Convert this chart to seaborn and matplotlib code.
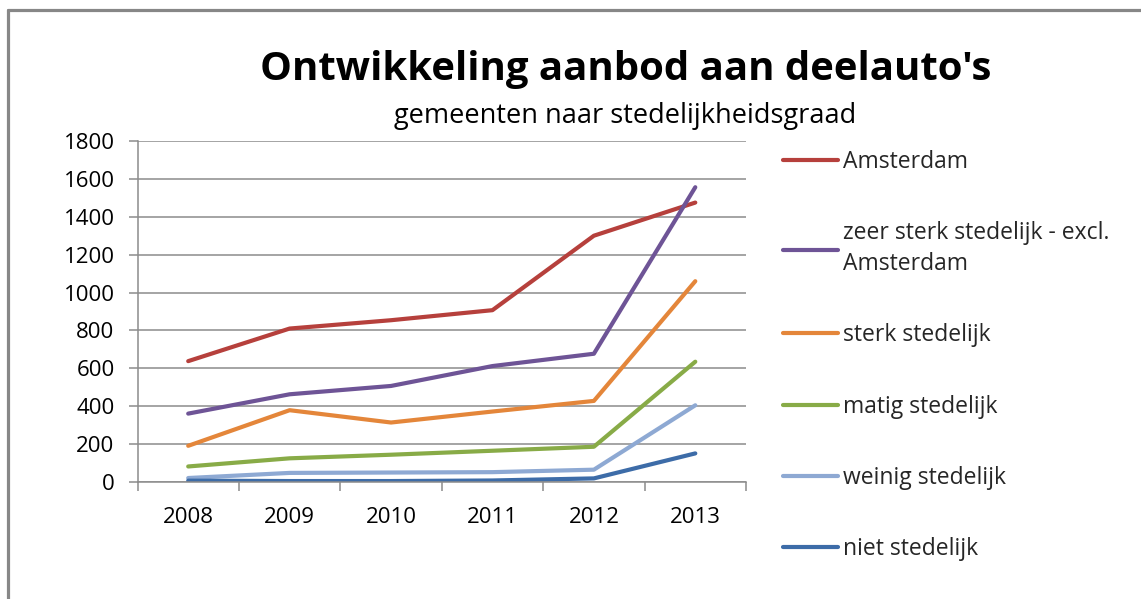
import numpy as np
import pandas as pd
import matplotlib.pyplot as plt
import seaborn as sns
from matplotlib.lines import Line2D

years = [2008, 2009, 2010, 2011, 2012, 2013]
series_names = [
    "Amsterdam",
    "zeer sterk stedelijk - excl.\nAmsterdam",
    "sterk stedelijk",
    "matig stedelijk",
    "weinig stedelijk",
    "niet stedelijk",
]
amsterdam = [638, 810, 854, 907, 1300, 1475]
zeer_sterk = [361, 463, 507, 612, 677, 1556]
sterk = [191, 379, 314, 372, 428, 1060]
matig = [82, 125, 144, 165, 186, 635]
weinig = [21, 48, 50, 52, 65, 405]
niet = [7, 5, 5, 8, 19, 151]
colors = ["#B6403C", "#6E5496", "#E4863A", "#88AB47", "#8EA9D3", "#3D6CA8"]

sns.set_theme(style="white")
plt.rcParams["font.family"] = ["Open Sans", "DejaVu Sans"]

df = pd.DataFrame({"jaar": years})
for name, vals in zip(series_names, [amsterdam, zeer_sterk, sterk, matig, weinig, niet]):
    df[name] = vals

fig = plt.figure(figsize=(11.41, 5.99), dpi=100)

# grey chart frame (only top and left edges are visible in the crop)
frame_col = "#878787"
fig.add_artist(Line2D([8 / 1141, 1.0], [1 - 10 / 599, 1 - 10 / 599],
                      transform=fig.transFigure, color=frame_col, linewidth=2.3))
fig.add_artist(Line2D([8 / 1141, 8 / 1141], [0.0, 1 - 10 / 599],
                      transform=fig.transFigure, color=frame_col, linewidth=2.3))

ax = fig.add_axes([137.5 / 1141, 1 - 482 / 599, (746 - 137.5) / 1141, (482 - 141) / 599])

for name, col in zip(series_names, colors):
    sns.lineplot(data=df, x="jaar", y=name, color=col, linewidth=3.0,
                 label=name, ax=ax, solid_capstyle="round")

ax.set_xlim(2007.5, 2013.5)
ax.set_ylim(0, 1800)
ax.set_yticks(np.arange(0, 1801, 200))
ax.set_xticks(np.arange(2007.5, 2014, 1))
ax.set_xticklabels([])
ax.set_xticks(years, minor=True)
ax.set_xticklabels([str(y) for y in years], minor=True)
ax.set_xlabel("")
ax.set_ylabel("")

grid_col = "#8C8C8C"
ax.yaxis.grid(True, color=grid_col, linewidth=1.1)
ax.xaxis.grid(False)
for side in ["top", "right"]:
    ax.spines[side].set_visible(False)
for side in ["left", "bottom"]:
    ax.spines[side].set_color(grid_col)
    ax.spines[side].set_linewidth(1.1)

ax.tick_params(axis="y", which="major", left=True, length=6.5, width=1.1, color=grid_col,
               labelsize=16, pad=10, labelcolor="black")
ax.tick_params(axis="x", which="major", bottom=True, length=6.5, width=1.1, color=grid_col)
ax.tick_params(axis="x", which="minor", bottom=True, length=0, labelsize=16, pad=18,
               labelcolor="black")

leg = ax.legend(loc="upper left", bbox_to_anchor=(783 / 1141, 1 - 150 / 599),
                bbox_transform=fig.transFigure, frameon=False, fontsize=16.5,
                handlelength=2.4, handletextpad=0.2, labelspacing=2.07,
                borderpad=0, borderaxespad=0)
for t in leg.get_texts():
    t.set_linespacing(1.35)

fig.text(626 / 1141, 1 - 80 / 599, "Ontwikkeling aanbod aan deelauto's",
         ha="center", va="baseline", fontsize=28.9, fontweight="bold", color="black")
fig.text(625 / 1141, 1 - 123 / 599, "gemeenten naar stedelijkheidsgraad",
         ha="center", va="baseline", fontsize=19.5, color="black")

fig.savefig("out.png", dpi=100)
